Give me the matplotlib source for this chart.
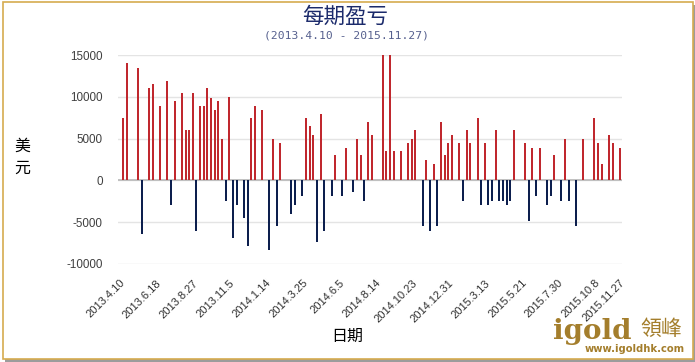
import matplotlib
matplotlib.use("Agg")
import matplotlib.pyplot as plt
from matplotlib.patches import Rectangle

plt.rcParams['font.family'] = ['Liberation Sans', 'Noto Sans CJK SC', 'DejaVu Sans']

# ==================== 数据 ====================
# 每周一个类别，共 138 期（2013.4.10 - 2015.11.27）
n_weeks = 138
bar_week = [1, 2, 5, 6, 8, 9, 11, 13, 14, 15, 17, 18, 19, 20, 21, 22, 23, 24, 25, 26,
            27, 28, 29, 30, 31, 32, 34, 35, 36, 37, 39, 41, 42, 43, 44, 47, 48, 50, 51, 52,
            53, 54, 55, 56, 58, 59, 61, 62, 64, 65, 66, 67, 68, 69, 72, 73, 74, 75, 77, 79,
            80, 81, 83, 84, 85, 86, 87, 88, 89, 90, 91, 93, 94, 95, 96, 98, 99, 100, 101, 102,
            103, 104, 105, 106, 107, 108, 111, 112, 113, 114, 115, 117, 118, 119, 121, 122, 123, 125, 127, 130,
            131, 132, 134, 135, 137]
bar_value = [7500, 14000, 13400, -6400, 11000, 11500, 8900, 11900, -3000, 9500, 10400, 6000, 6000, 10400, -6000, 8900, 8900, 11000, 9900, 8400,
             9500, 5000, -2500, 10000, -6900, -3000, -4500, -7900, 7500, 8900, 8400, -8300, 5000, -5400, 4500, -4000, -2900, -1900, 7500, 6500,
             5400, -7400, 8000, -6000, -1900, 3000, -1900, 3900, -1400, 5000, 3000, -2500, 7000, 5400, 17000, 3500, 17000, 3500, 3500, 4500,
             5000, 6000, -5400, 2500, -6000, 2000, -5400, 7000, 3000, 4500, 5400, 4500, -2500, 6000, 4500, 7500, -3000, 4500, -3000, -2500,
             6000, -2500, -2500, -3000, -2500, 6000, 4500, -4900, 3900, -1900, 3900, -3000, -1900, 3000, -2500, 5000, -2500, -5400, 5000, 7500,
             4500, 2000, 5400, 4500, 3900]

tick_week = [0, 10, 20, 30, 40, 50, 60, 70, 80, 90, 100, 110, 120, 130, 137]
tick_label = ['2013.4.10', '2013.6.18', '2013.8.27', '2013.11.5', '2014.1.14', '2014.3.25',
              '2014.6.5', '2014.8.14', '2014.10.23', '2014.12.31', '2015.3.13', '2015.5.21',
              '2015.7.30', '2015.10.8', '2015.11.27']
y_ticks = [-10000, -5000, 0, 5000, 10000, 15000]

RED = '#C0282E'
NAVY = '#0D1F4E'
GOLD = '#A47E2C'

# ==================== 绘图 ====================
fig = plt.figure(figsize=(6.95, 3.62), dpi=100)
W, H = 695, 362

# 外框 + 阴影
fig.add_artist(Rectangle((5 / W, 0), 690 / W, 357 / H, transform=fig.transFigure,
                         facecolor='#9C9C9C', edgecolor='none', zorder=-10))
fig.add_artist(Rectangle((2.5 / W, 3.5 / H), 690 / W, 357 / H, transform=fig.transFigure,
                         facecolor='white', edgecolor='#D6AB4F', lw=1.2, zorder=-9))

ax = fig.add_axes([118 / W, 1 - 264 / H, 503.7 / W, 209 / H])
ax.patch.set_alpha(0)

colors = [RED if v > 0 else NAVY for v in bar_value]
ax.bar(bar_week, bar_value, width=0.55, color=colors, zorder=3)

ax.set_xlim(-0.5, n_weeks - 0.5)
ax.set_ylim(-10000, 15000)
ax.set_yticks(y_ticks)
ax.set_yticklabels([str(v) for v in y_ticks], fontsize=8.4, color='#404040')
ax.yaxis.grid(True, color='#E4E4E4', lw=1, zorder=0)
ax.axhline(0, color='#BDBDBD', lw=1.3, zorder=2)
ax.set_xticks(tick_week)
ax.set_xticklabels(tick_label, rotation=45, ha='right', va='top',
                   rotation_mode='anchor', fontsize=8, color='#303030')
ax.tick_params(axis='both', length=0)
ax.tick_params(axis='x', pad=10)
ax.tick_params(axis='y', pad=11)
for s in ax.spines.values():
    s.set_visible(False)

# 标题
fig.text(345 / W, 1 - 17 / H, '每期盈亏', family=['Noto Sans CJK SC'], fontsize=15.5,
         color='#1B2A6B', ha='center', va='center')
fig.text(346 / W, 1 - 35 / H, '(2013.4.10 - 2015.11.27)', family=['DejaVu Sans Mono'],
         fontsize=8.2, color='#56608E', ha='center', va='center')

# 坐标轴名称
fig.text(22 / W, 1 - 157 / H, '美\n元', family=['Noto Sans CJK SC'], fontsize=11.5,
         ha='center', va='center', linespacing=1.35)
fig.text(347 / W, 1 - 336 / H, '日期', family=['Noto Sans CJK SC'], fontsize=11.5,
         ha='center', va='center')

# logo
fig.text(553 / W, 1 - 339 / H, 'igold', family=['DejaVu Serif'], fontweight='bold',
         fontsize=20, color=GOLD, ha='left', va='baseline')
fig.text(661 / W, 1 - 329 / H, '領峰', family=['Noto Sans CJK TC'], fontsize=15,
         color=GOLD, ha='center', va='center')
fig.text(635 / W, 1 - 349 / H, 'www.igoldhk.com', family=['DejaVu Sans'], fontweight='bold',
         fontsize=7.2, color=GOLD, ha='center', va='center')

fig.savefig('out.png', dpi=100)
